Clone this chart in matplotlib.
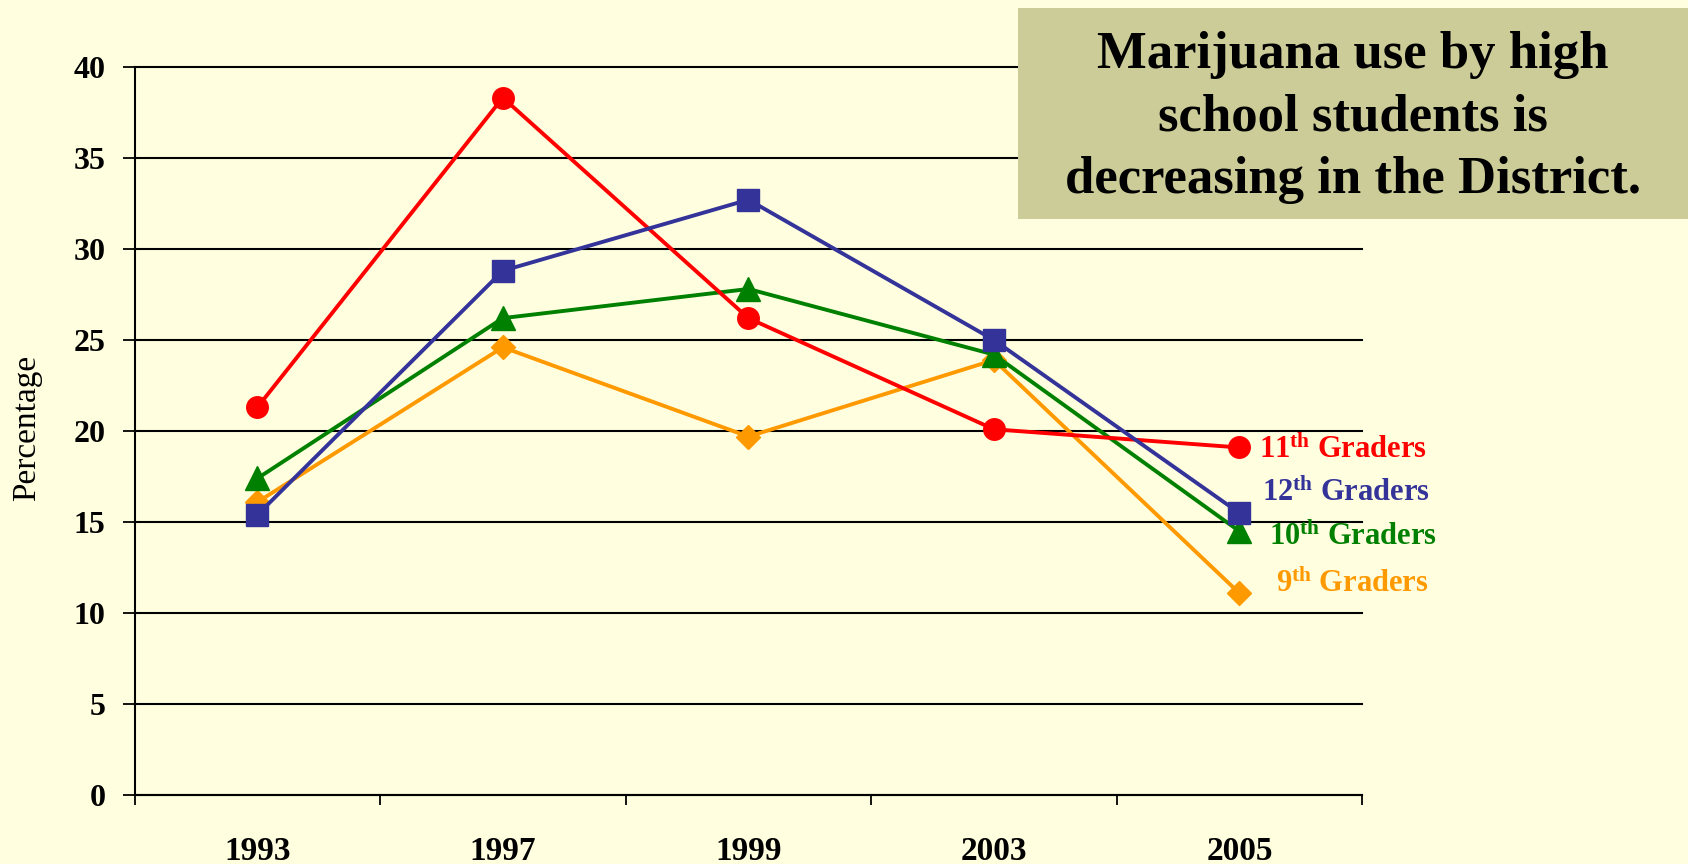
import matplotlib
matplotlib.use("Agg")
import matplotlib.pyplot as plt
from matplotlib.patches import Rectangle

# ── Data ───────────────────────────────────────────────────────────────────────
years = ["1993", "1997", "1999", "2003", "2005"]
grade_11 = [21.3, 38.3, 26.2, 20.1, 19.1]
grade_12 = [15.4, 28.8, 32.7, 25.0, 15.5]
grade_10 = [17.4, 26.2, 27.8, 24.2, 14.5]
grade_9 = [16.1, 24.6, 19.7, 23.9, 11.1]
y_ticks = [0, 5, 10, 15, 20, 25, 30, 35, 40]

title_text = "Marijuana use by high\nschool students is\ndecreasing in the District."

# ── Style ──────────────────────────────────────────────────────────────────────
BG = "#FFFFE0"
BOX = "#CCCC99"
RED, BLUE, GREEN, ORANGE = "#FF0000", "#333399", "#008000", "#FF9900"

plt.rcParams["font.family"] = ["Liberation Serif", "DejaVu Serif"]
plt.rcParams["mathtext.fontset"] = "custom"
plt.rcParams["mathtext.rm"] = "Liberation Serif:bold"
plt.rcParams["mathtext.it"] = "Liberation Serif:bold"
plt.rcParams["mathtext.bf"] = "Liberation Serif:bold"

fig = plt.figure(figsize=(16.88, 8.64), dpi=100, facecolor=BG)
ax = fig.add_axes([0.0797, 0.0793, 0.7273, 0.8435], facecolor=BG)

x = list(range(len(years)))

# series: orange, green, red, blue (blue on top)
ax.plot(x, grade_9, color=ORANGE, lw=2.8, marker="D", ms=12, zorder=3)
ax.plot(x, grade_10, color=GREEN, lw=2.8, marker="^", ms=17, zorder=4)
ax.plot(x, grade_11, color=RED, lw=2.8, marker="o", ms=15.5, zorder=5)
ax.plot(x, grade_12, color=BLUE, lw=2.8, marker="s", ms=16, zorder=6)

ax.set_xlim(-0.5, len(years) - 0.5)
ax.set_ylim(0, 40)

# gridlines
for v in y_ticks:
    ax.axhline(v, color="black", lw=1.5, zorder=1, clip_on=False)

ax.set_yticks(y_ticks)
ax.set_yticklabels([str(v) for v in y_ticks], fontsize=23, fontweight="bold")
ax.tick_params(axis="y", direction="out", length=9, width=1.3, pad=12)

ax.set_xticks(x)
ax.set_xticklabels(years, fontsize=24, fontweight="bold")
ax.tick_params(axis="x", which="major", length=0, pad=29)
ax.set_xticks([i - 0.5 for i in range(len(years) + 1)], minor=True)
ax.tick_params(axis="x", which="minor", direction="out", length=7, width=1.3)

ax.spines[["top", "right"]].set_visible(False)
ax.spines["left"].set_linewidth(1.5)
ax.spines["bottom"].set_linewidth(1.5)

fig.text(0.016, 0.505, "Percentage", rotation=90, fontsize=24,
         ha="center", va="center")

# right-side series labels
lx = len(years) - 1 + 0.08
ax.text(lx, 18.95, r"11$^{\rm th}$ Graders", color=RED, fontsize=22,
        fontweight="bold", va="center", ha="left")
ax.text(lx + 0.01, 16.6, r"12$^{\rm th}$ Graders", color=BLUE, fontsize=22,
        fontweight="bold", va="center", ha="left")
ax.text(lx + 0.04, 14.2, r"10$^{\rm th}$ Graders", color=GREEN, fontsize=22,
        fontweight="bold", va="center", ha="left")
ax.text(lx + 0.07, 11.6, r"9$^{\rm th}$ Graders", color=ORANGE, fontsize=22,
        fontweight="bold", va="center", ha="left")

# title box
fig.patches.append(Rectangle((0.603, 0.747), 0.397, 0.244, transform=fig.transFigure,
                             facecolor=BOX, edgecolor="none", zorder=0))
fig.text(0.8015, 0.864, title_text, fontsize=38, fontweight="bold",
         ha="center", va="center", linespacing=1.38)

fig.savefig("out.png", dpi=100, facecolor=BG)
